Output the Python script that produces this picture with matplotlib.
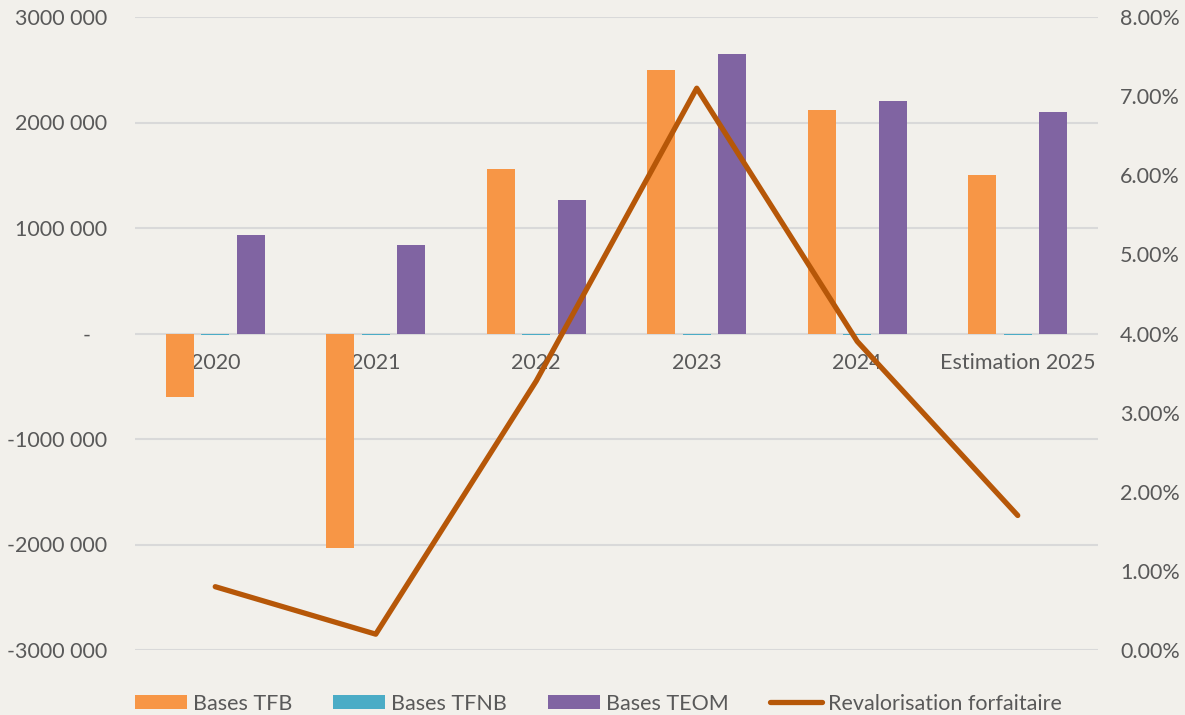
import numpy as np
import matplotlib
matplotlib.use('Agg')
import matplotlib.pyplot as plt
from matplotlib.ticker import FuncFormatter

# Data
categories = ['2020', '2021', '2022', '2023', '2024', 'Estimation 2025']
bases_tfb = [-600000, -2030000, 1555000, 2500000, 2120000, 1500000]
bases_tfnb = [-12000, -12000, -12000, -12000, -12000, -12000]
bases_teom = [930000, 835000, 1270000, 2650000, 2200000, 2100000]
revalo = [0.8, 0.2, 3.4, 7.1, 3.9, 1.7]

bg = '#F2F0EB'
txt = '#595959'
plt.rcParams['font.family'] = ['Lato', 'DejaVu Sans']

fig = plt.figure(figsize=(11.85, 7.15), dpi=100, facecolor=bg)
ax = fig.add_axes([135/1185, 1-650/715, 963/1185, 633/715], facecolor=bg)

x = np.arange(len(categories))
w = 0.175
off = 0.22
ax.bar(x - off, bases_tfb, w, color='#F79646', label='Bases TFB', zorder=2)
ax.bar(x, bases_tfnb, w, color='#4BACC6', label='Bases TFNB', zorder=2)
ax.bar(x + off, bases_teom, w, color='#8064A2', label='Bases TEOM', zorder=2)

ax.set_xlim(-0.5, len(categories) - 0.5)
ax.set_ylim(-3000000, 3000000)
ax.set_yticks(np.arange(-3000000, 3000001, 1000000))
ax.grid(axis='y', color='#D9D9D9', linewidth=1.5, zorder=0)
ax.set_axisbelow(True)


def fmt(v, pos):
    if v == 0:
        return '-   '
    return '%d 000' % int(v / 1000)


ax.yaxis.set_major_formatter(FuncFormatter(fmt))
ax.tick_params(axis='y', length=0, pad=20, labelsize=15.5, labelcolor=txt)
ax.set_xticks(x)
ax.set_xticklabels(categories)
ax.spines['bottom'].set_position(('data', 0))
for s in ax.spines.values():
    s.set_visible(False)
ax.tick_params(axis='x', length=0, pad=14, labelsize=15.5, labelcolor=txt)

# Secondary axis for the revaluation rate
ax2 = ax.twinx()
ax2.plot(x, revalo, color='#B65708', linewidth=3.8, solid_capstyle='round',
         label='Revalorisation forfaitaire', zorder=5)
ax2.set_ylim(0, 8)
ax2.set_yticks(np.arange(0, 8.1, 1))
ax2.yaxis.set_major_formatter(FuncFormatter(lambda v, p: '%.2f%%' % v))
ax2.tick_params(axis='y', length=0, pad=16, labelsize=15.5, labelcolor=txt)
for s in ax2.spines.values():
    s.set_visible(False)

h1, l1 = ax.get_legend_handles_labels()
h2, l2 = ax2.get_legend_handles_labels()
fig.legend(h1 + h2, l1 + l2, loc='lower center', bbox_to_anchor=(0.505, -0.025),
           ncol=4, frameon=False, fontsize=15.5, labelcolor=txt,
           handlelength=2.4, handleheight=0.65, columnspacing=1.9, handletextpad=0.3)

fig.savefig('out.png', dpi=100, facecolor=bg)
